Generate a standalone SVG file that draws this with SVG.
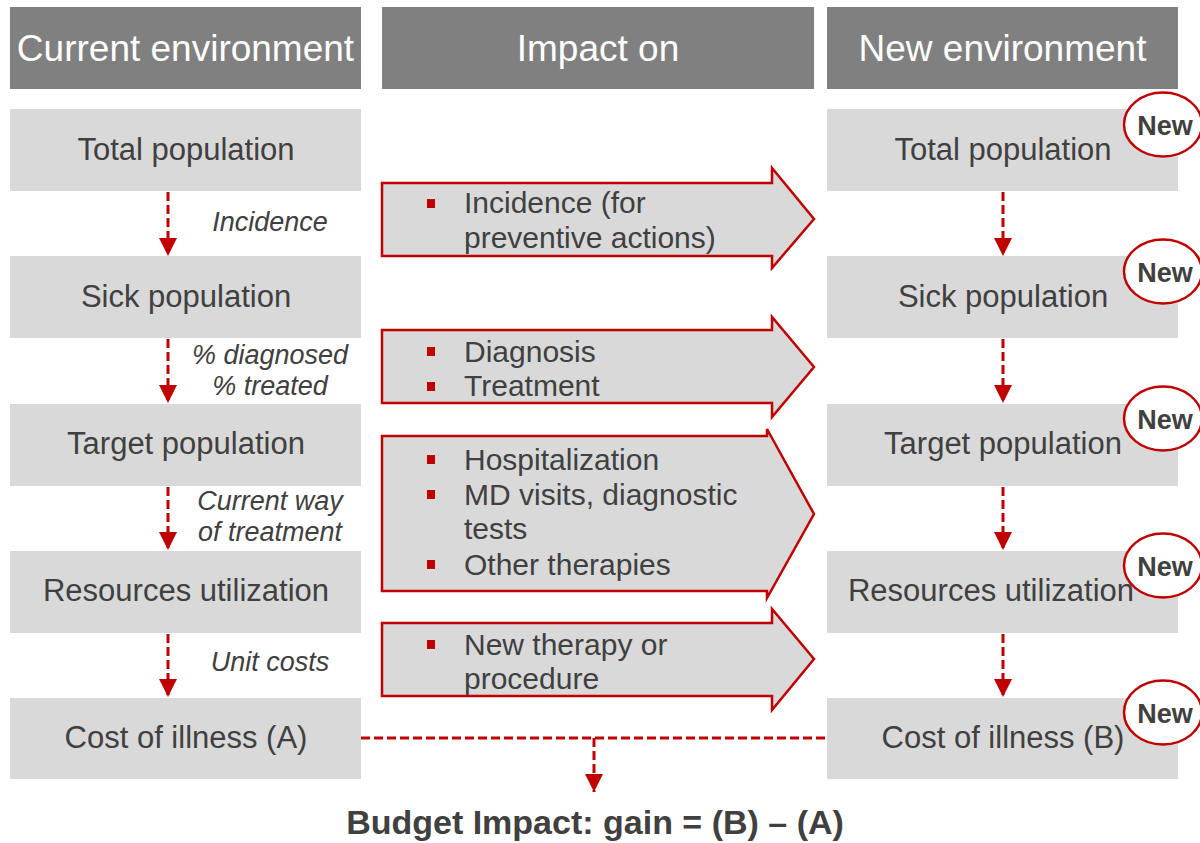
<svg xmlns="http://www.w3.org/2000/svg" width="1200" height="843" viewBox="0 0 1200 843">
<defs>
<style>
.hdr{fill:#808080}
.hdrt{fill:#ffffff;font-family:"Liberation Sans",Arial,sans-serif;font-size:37px;text-anchor:middle}
.box{fill:#d9d9d9}
.bt{fill:#404040;font-family:"Liberation Sans",Arial,sans-serif;font-size:31px;text-anchor:middle}
.lbl{fill:#404040;font-family:"Liberation Sans",Arial,sans-serif;font-size:27px;font-style:italic;text-anchor:middle}
.arr{fill:#d9d9d9;stroke:#c00000;stroke-width:2.5}
.at{fill:#404040;font-family:"Liberation Sans",Arial,sans-serif;font-size:30px}
.bul{fill:#c00000}
.new{fill:#ffffff;stroke:#c00000;stroke-width:2.5}
.newt{fill:#404040;font-family:"Liberation Sans",Arial,sans-serif;font-size:27px;font-weight:bold;text-anchor:middle}
.dash{fill:none;stroke:#c00000;stroke-width:3;stroke-dasharray:9 4}
.res{fill:#404040;font-family:"Liberation Sans",Arial,sans-serif;font-size:34px;font-weight:bold;text-anchor:middle}
</style>
<marker id="ah" viewBox="0 0 10 10" refX="10" refY="5" markerWidth="6" markerHeight="6" markerUnits="strokeWidth" orient="auto">
<path d="M0,0 L10,5 L0,10 Z" fill="#c00000"/>
</marker>
</defs>

<g id="header-current"><rect class="hdr" x="10" y="7" width="351" height="82"/><text class="hdrt" x="185.5" y="61">Current environment</text></g>
<g id="header-impact"><rect class="hdr" x="382" y="7" width="432" height="82"/><text class="hdrt" x="598" y="61">Impact on</text></g>
<g id="header-new"><rect class="hdr" x="827" y="7" width="351" height="82"/><text class="hdrt" x="1002.5" y="61">New environment</text></g>

<g id="cur-total"><rect class="box" x="10" y="109" width="351" height="82"/><text class="bt" x="186" y="160">Total population</text></g>
<g id="cur-sick"><rect class="box" x="10" y="256" width="351" height="82"/><text class="bt" x="186" y="307">Sick population</text></g>
<g id="cur-target"><rect class="box" x="10" y="404" width="351" height="82"/><text class="bt" x="186" y="454">Target population</text></g>
<g id="cur-resources"><rect class="box" x="10" y="551" width="351" height="82"/><text class="bt" x="186" y="601">Resources utilization</text></g>
<g id="cur-cost"><rect class="box" x="10" y="698" width="351" height="81"/><text class="bt" x="186" y="748">Cost of illness (A)</text></g>

<g id="new-total"><rect class="box" x="827" y="109" width="351" height="82"/><ellipse class="new" cx="1163" cy="124.5" rx="39" ry="32"/><text class="bt" x="1003" y="160">Total population</text><text class="newt" x="1165" y="135">New</text></g>
<g id="new-sick"><rect class="box" x="827" y="256" width="351" height="82"/><ellipse class="new" cx="1163" cy="271.5" rx="39" ry="32"/><text class="bt" x="1003" y="307">Sick population</text><text class="newt" x="1165" y="282">New</text></g>
<g id="new-target"><rect class="box" x="827" y="404" width="351" height="82"/><ellipse class="new" cx="1163" cy="418.5" rx="39" ry="32"/><text class="bt" x="1003" y="454">Target population</text><text class="newt" x="1165" y="429">New</text></g>
<g id="new-resources"><rect class="box" x="827" y="551" width="351" height="82"/><ellipse class="new" cx="1163" cy="565.5" rx="39" ry="32"/><text class="bt" x="991" y="601">Resources utilization</text><text class="newt" x="1165" y="576">New</text></g>
<g id="new-cost"><rect class="box" x="827" y="698" width="351" height="81"/><ellipse class="new" cx="1163" cy="712.5" rx="39" ry="32"/><text class="bt" x="1003" y="748">Cost of illness (B)</text><text class="newt" x="1165" y="723">New</text></g>

<g id="impact-incidence">
<path class="arr" d="M382,183 L772,183 L772,168 L814,219 L772,268 L772,256 L382,256 Z"/>
<rect class="bul" x="427" y="199" width="8" height="9"/>
<text class="at" x="464" y="213">Incidence (for</text>
<text class="at" x="464" y="248">preventive actions)</text>
</g>
<g id="impact-diagnosis">
<path class="arr" d="M382,330 L772,330 L772,317 L814,367 L772,417 L772,403 L382,403 Z"/>
<rect class="bul" x="427" y="347" width="8" height="9"/>
<text class="at" x="464" y="362">Diagnosis</text>
<rect class="bul" x="427" y="382" width="8" height="9"/>
<text class="at" x="464" y="396">Treatment</text>
</g>
<g id="impact-resources">
<path class="arr" d="M382,436 L767,436 L767,429 L814,514 L767,598 L767,591 L382,591 Z"/>
<rect class="bul" x="427" y="455" width="8" height="9"/>
<text class="at" x="464" y="470">Hospitalization</text>
<rect class="bul" x="427" y="490" width="8" height="9"/>
<text class="at" x="464" y="505">MD visits, diagnostic</text>
<text class="at" x="464" y="539">tests</text>
<rect class="bul" x="427" y="560" width="8" height="9"/>
<text class="at" x="464" y="575">Other therapies</text>
</g>
<g id="impact-newtherapy">
<path class="arr" d="M382,623 L772,623 L772,609 L814,659 L772,710 L772,696 L382,696 Z"/>
<rect class="bul" x="427" y="640" width="8" height="9"/>
<text class="at" x="464" y="655">New therapy or</text>
<text class="at" x="464" y="689">procedure</text>
</g>

<g id="connectors">
<line class="dash" x1="168" y1="192" x2="168" y2="256" marker-end="url(#ah)"/>
<line class="dash" x1="168" y1="339" x2="168" y2="403" marker-end="url(#ah)"/>
<line class="dash" x1="168" y1="487" x2="168" y2="550" marker-end="url(#ah)"/>
<line class="dash" x1="168" y1="634" x2="168" y2="697" marker-end="url(#ah)"/>
<line class="dash" x1="1003" y1="192" x2="1003" y2="256" marker-end="url(#ah)"/>
<line class="dash" x1="1003" y1="339" x2="1003" y2="403" marker-end="url(#ah)"/>
<line class="dash" x1="1003" y1="487" x2="1003" y2="550" marker-end="url(#ah)"/>
<line class="dash" x1="1003" y1="634" x2="1003" y2="697" marker-end="url(#ah)"/>
<line class="dash" x1="361" y1="738" x2="827" y2="738"/>
<line class="dash" x1="594" y1="738" x2="594" y2="792" marker-end="url(#ah)"/>
<text class="lbl" x="270" y="231">Incidence</text>
<text class="lbl" x="270" y="364">% diagnosed</text>
<text class="lbl" x="270" y="395">% treated</text>
<text class="lbl" x="270" y="510">Current way</text>
<text class="lbl" x="270" y="541">of treatment</text>
<text class="lbl" x="270" y="671">Unit costs</text>
</g>

<g id="result"><text class="res" x="595" y="834">Budget Impact: gain = (B) – (A)</text></g>
</svg>
